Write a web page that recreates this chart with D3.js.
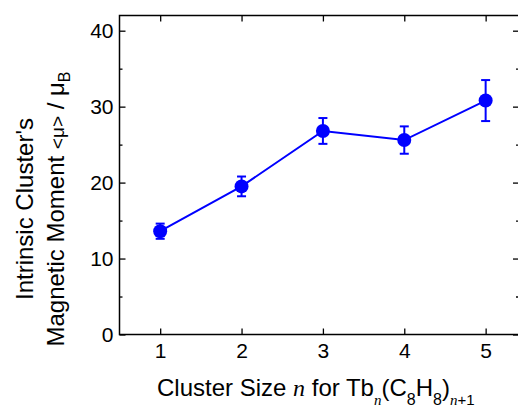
<!DOCTYPE html>
<html>
<head>
<meta charset="utf-8">
<script src="https://cdn.jsdelivr.net/npm/d3@7"></script>
<style>
  body { margin: 0; background: #fff; }
  svg { display: block; font-family: "Liberation Sans", Arial, sans-serif; }
</style>
</head>
<body>
<svg id="chart" width="518" height="408"></svg>
<script>
// cluster size n
var clusterSize = [1, 2, 3, 4, 5];
// magnetic moment in mu_B, with error
var moment = [13.6, 19.5, 26.8, 25.6, 30.8];
var momentErr = [1.0, 1.3, 1.7, 1.8, 2.7];
var xTicks = [1, 2, 3, 4, 5];
var yTicks = [0, 10, 20, 30, 40];
var yMinor = [5, 15, 25, 35];

var svg = d3.select("#chart");
var mLeft = 119.5, mRight = 519, mTop = 15.5, mBottom = 334.5;

var x = d3.scaleLinear().domain([0.5, 5.41]).range([mLeft, mRight]);
var y = d3.scaleLinear().domain([0, 42]).range([mBottom, mTop]);

var blue = "#0000ff";

// frame
svg.append("rect")
  .attr("x", mLeft).attr("y", mTop)
  .attr("width", mRight - mLeft).attr("height", mBottom - mTop)
  .attr("fill", "none").attr("stroke", "#000").attr("stroke-width", 1.5);

// axes, ticks pointing inward
function styleAxis(g) {
  g.select(".domain").remove();
  g.selectAll(".tick line").attr("stroke", "#000").attr("stroke-width", 1.3);
  g.selectAll(".tick text").attr("font-size", 21).attr("fill", "#000")
    .attr("font-family", "Liberation Sans, Arial, sans-serif");
}

svg.append("g").attr("transform", "translate(0," + mBottom + ")")
  .call(d3.axisBottom(x).tickValues(xTicks).tickSizeInner(-6).tickPadding(9).tickFormat(d3.format("d")))
  .call(styleAxis);
svg.append("g").attr("transform", "translate(0," + mTop + ")")
  .call(d3.axisTop(x).tickValues(xTicks).tickSizeInner(-6).tickFormat(""))
  .call(styleAxis);
svg.append("g").attr("transform", "translate(" + mLeft + ",0)")
  .call(d3.axisLeft(y).tickValues(yTicks).tickSizeInner(-6).tickPadding(6).tickFormat(d3.format("d")))
  .call(styleAxis);
svg.append("g").attr("transform", "translate(" + mLeft + ",0)")
  .call(d3.axisLeft(y).tickValues(yMinor).tickSizeInner(-3).tickFormat(""))
  .call(styleAxis);
svg.append("g").attr("transform", "translate(" + mRight + ",0)")
  .call(d3.axisRight(y).tickValues(yTicks).tickSizeInner(-6).tickFormat(""))
  .call(styleAxis);
svg.append("g").attr("transform", "translate(" + mRight + ",0)")
  .call(d3.axisRight(y).tickValues(yMinor).tickSizeInner(-3).tickFormat(""))
  .call(styleAxis);

var pts = clusterSize.map(function(n, i) { return { n: n, v: moment[i], e: momentErr[i] }; });

// connecting line
svg.append("path").datum(pts)
  .attr("fill", "none").attr("stroke", blue).attr("stroke-width", 2)
  .attr("d", d3.line().x(function(d) { return x(d.n); }).y(function(d) { return y(d.v); }));

// error bars
var eb = svg.append("g").attr("stroke", blue).attr("stroke-width", 2);
pts.forEach(function(d) {
  eb.append("line").attr("x1", x(d.n)).attr("x2", x(d.n))
    .attr("y1", y(d.v - d.e)).attr("y2", y(d.v + d.e));
  [d.v - d.e, d.v + d.e].forEach(function(v) {
    eb.append("line").attr("x1", x(d.n) - 4.5).attr("x2", x(d.n) + 4.5)
      .attr("y1", y(v)).attr("y2", y(v));
  });
});

svg.append("g").selectAll("circle").data(pts).enter().append("circle")
  .attr("cx", function(d) { return x(d.n); })
  .attr("cy", function(d) { return y(d.v); })
  .attr("r", 7).attr("fill", blue);

// x title
var serif = "Liberation Serif, serif";
var xt = svg.append("text").attr("x", 157).attr("y", 396).attr("font-size", 24);
xt.append("tspan").text("Cluster Size ");
xt.append("tspan").attr("font-family", serif).attr("font-style", "italic").text("n");
xt.append("tspan").text(" for Tb");
xt.append("tspan").attr("font-family", serif).attr("font-style", "italic")
  .attr("font-size", 15).attr("dy", 9).text("n");
xt.append("tspan").attr("dy", -9).text("(C");
xt.append("tspan").attr("font-size", 16).attr("dy", 9).text("8");
xt.append("tspan").attr("dy", -9).text("H");
xt.append("tspan").attr("font-size", 16).attr("dy", 9).text("8");
xt.append("tspan").attr("dy", -9).text(")");
xt.append("tspan").attr("font-size", 15).attr("dy", 9).attr("font-family", serif)
  .attr("font-style", "italic").text("n");
xt.append("tspan").attr("font-size", 15).text("+1");

// y title, two lines
var yt = svg.append("g").attr("transform", "translate(33,209) rotate(-90)");
yt.append("text").attr("text-anchor", "middle").attr("font-size", 24).text("Intrinsic Cluster's");
var yt2 = yt.append("text").attr("text-anchor", "middle").attr("y", 30.5).attr("font-size", 24);
yt2.append("tspan").text("Magnetic Moment ");
yt2.append("tspan").attr("font-size", 19).text("<\u03bc>");
yt2.append("tspan").text(" / \u03bc");
yt2.append("tspan").attr("font-size", 16).attr("dy", 6).text("B");
</script>
</body>
</html>
